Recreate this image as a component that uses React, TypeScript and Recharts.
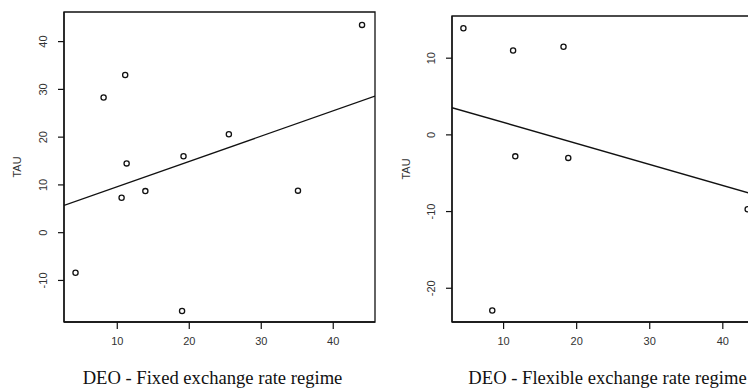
import React from 'react';
import { ScatterChart, Scatter, XAxis, YAxis, Label, ReferenceArea } from 'recharts';

// fixed regime panel
const fixedDeo = [4.2, 8.1, 11.1, 11.3, 10.6, 13.9, 19.2, 19.0, 25.5, 35.1, 44.0];
const fixedTau = [-8.4, 28.3, 33.0, 14.5, 7.3, 8.7, 16.0, -16.4, 20.6, 8.8, 43.5];
const fixedFitDeo = [2.6, 45.8];
const fixedFitTau = [5.7, 28.6];
const fixedXTicks = [10, 20, 30, 40];
const fixedYTicks = [-10, 0, 10, 20, 30, 40];

// flexible regime panel
const flexDeo = [4.5, 11.3, 18.2, 11.6, 18.85, 8.45, 43.4];
const flexTau = [13.9, 11.0, 11.5, -2.8, -3.0, -22.9, -9.7];
const flexFitDeo = [2.94, 45.5];
const flexFitTau = [3.55, -8.1];
const flexXTicks = [10, 20, 30, 40];
const flexYTicks = [-20, -10, 0, 10];

const sans = '"Liberation Sans", Arial, sans-serif';
const serif = '"Liberation Serif", "Times New Roman", serif';
const ink = '#111';

const zip = (xs: number[], ys: number[]) => xs.map((x, i) => ({ x, y: ys[i] }));

const RotTick = (props: any) => {
  const { x, y, payload } = props;
  const bx = x - 9;
  return (
    <text x={bx} y={y} transform={`rotate(-90, ${bx}, ${y})`} textAnchor="middle"
      fontSize={11} fill="#333" fontFamily={sans}>
      {payload.value}
    </text>
  );
};

const OpenDot = (props: any) => {
  const { cx, cy } = props;
  if (cx == null || cy == null) return <g />;
  return <circle cx={cx} cy={cy} r={2.6} fill="#fff" stroke={ink} strokeWidth={1.3} />;
};

interface PanelProps {
  left: number;
  width: number;
  margin: { top: number; right: number };
  yAxisWidth: number;
  tauX: number;
  xDomain: [number, number];
  yDomain: [number, number];
  xTicks: number[];
  yTicks: number[];
  points: { x: number; y: number }[];
  fit: { x: number; y: number }[];
  title: string;
  titleDx: number;
}

const Panel: React.FC<PanelProps> = (p) => (
  <div style={{ position: 'absolute', left: p.left, top: 0 }}>
    <ScatterChart width={p.width} height={388}
      margin={{ top: p.margin.top, right: p.margin.right, bottom: 0, left: 0 }}>
      <XAxis type="number" dataKey="x" domain={p.xDomain} ticks={p.xTicks} allowDataOverflow
        height={66} tickSize={7} tickMargin={8}
        axisLine={{ stroke: ink, strokeWidth: 1.3 }} tickLine={{ stroke: ink, strokeWidth: 1.2 }}
        tick={{ fontSize: 11, fill: '#333', fontFamily: sans }}>
        <Label value={p.title} position="insideBottom" offset={4} dx={p.titleDx}
          style={{ fontSize: 18.6, fill: ink, fontFamily: serif }} />
      </XAxis>
      <YAxis type="number" dataKey="y" domain={p.yDomain} ticks={p.yTicks} allowDataOverflow
        width={p.yAxisWidth} tickSize={6} tickMargin={2}
        axisLine={{ stroke: ink, strokeWidth: 1.3 }} tickLine={{ stroke: ink, strokeWidth: 1.2 }}
        tick={<RotTick />}>
        <Label content={(lp: any) => {
          const vb = lp.viewBox || { x: 0, y: 0, height: 0 };
          const cx = p.tauX;
          const cy = vb.y + vb.height / 2;
          return (
            <text x={cx} y={cy} transform={`rotate(-90, ${cx}, ${cy})`} textAnchor="middle"
              fontSize={11} fill="#333" fontFamily={sans}>TAU</text>
          );
        }} />
      </YAxis>
      <ReferenceArea x1={p.xDomain[0]} x2={p.xDomain[1]} y1={p.yDomain[0]} y2={p.yDomain[1]}
        fill="none" fillOpacity={0} stroke={ink} strokeWidth={1.3} ifOverflow="visible" />
      <Scatter data={p.fit} line={{ stroke: ink, strokeWidth: 1.4 }}
        shape={() => <g />} isAnimationActive={false} />
      <Scatter data={p.points} shape={<OpenDot />} isAnimationActive={false} />
    </ScatterChart>
  </div>
);

export default function App() {
  return (
    <div style={{ position: 'absolute', left: 0, top: 0, width: 748, height: 388, overflow: 'hidden', background: '#fff' }}>
      <Panel left={0} width={380} margin={{ top: 12, right: 5 }} yAxisWidth={64} tauX={21}
        xDomain={[2.6, 45.8]} yDomain={[-18.7, 46.2]} xTicks={fixedXTicks} yTicks={fixedYTicks}
        points={zip(fixedDeo, fixedTau)} fit={zip(fixedFitDeo, fixedFitTau)}
        title="DEO - Fixed exchange rate regime" titleDx={-7} />
      <Panel left={380} width={400} margin={{ top: 16, right: 17 }} yAxisWidth={72} tauX={30}
        xDomain={[2.94, 45.5]} yDomain={[-24.4, 15.5]} xTicks={flexXTicks} yTicks={flexYTicks}
        points={zip(flexDeo, flexTau)} fit={zip(flexFitDeo, flexFitTau)}
        title="DEO - Flexible exchange rate regime" titleDx={0} />
    </div>
  );
}
